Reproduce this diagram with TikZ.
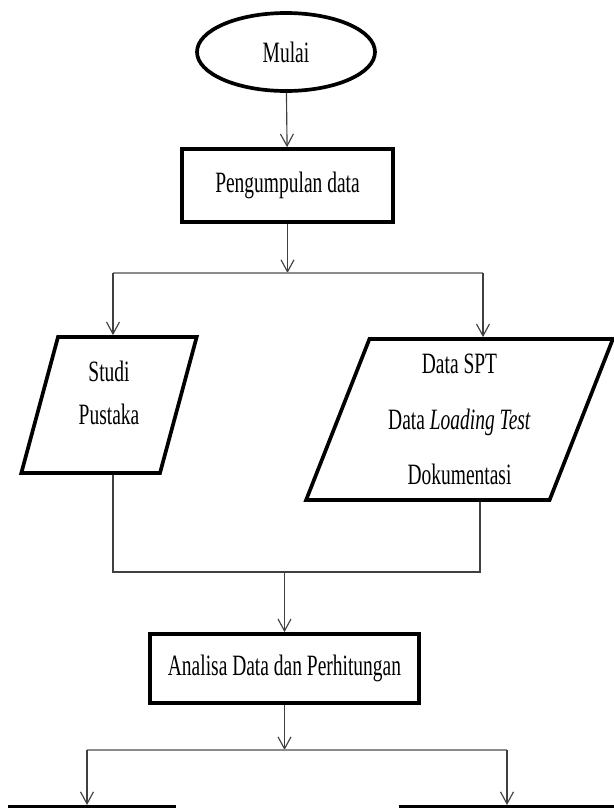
\documentclass[tikz,border=0pt]{standalone}
\usepackage{fontspec}
\setmainfont{Liberation Serif}[FakeStretch=0.66]
\usepackage{tikz}
\usetikzlibrary{arrows.meta, positioning, shapes.geometric, calc}

\tikzset{
  >={Straight Barb[length=2.4mm, width=2.6mm]},
  startstop/.style={draw, line width=2.1pt, ellipse, inner sep=0pt, minimum width=3.56cm, minimum height=1.56cm},
  procbox/.style={draw, line width=2.1pt, rectangle, inner sep=0pt, align=center},
  iobox/.style={draw, line width=2.1pt, trapezium, trapezium stretches=true, inner sep=0pt, align=center},
  conn/.style={draw=black!75, line width=0.65pt},
  splitline/.style={draw=black!45, line width=0.9pt}
}

\begin{document}
\begin{tikzpicture}[font=\fontsize{16.8}{20}\selectfont]
    \useasboundingbox (0,0) rectangle (12.28,-16.16);
    \clip (0,0) rectangle (12.28,-16.16);

    % Start
    \node[startstop] (mulai) at (5.72,-1.04) {Mulai};

    % Data collection
    \node[procbox, minimum width=4.22cm, minimum height=1.46cm] (kumpul) at (5.75,-3.71) {Pengumpulan data};

    % Inputs
    \node[iobox, trapezium left angle=76, trapezium right angle=104,
          minimum width=3.52cm, minimum height=2.72cm] (studi) at (2.18,-8.10)
          {Studi\\[4.5pt]Pustaka\\[-6.4pt]\mbox{}};
    \node[iobox, trapezium left angle=69, trapezium right angle=111,
          minimum width=6.14cm, minimum height=3.22cm] (datain) at (9.19,-8.39)
          {Data SPT\\[11.5pt]Data \textit{Loading Test}\\[11.5pt]Dokumentasi};

    % Analysis
    \node[procbox, minimum width=5.38cm, minimum height=1.38cm] (analisa) at (5.69,-13.37) {Analisa Data dan Perhitungan};

    % Next steps (cut off below)
    \node[procbox, anchor=north, minimum width=3.28cm, minimum height=1.4cm] (hasilA) at (1.84,-16.10) {};
    \node[procbox, anchor=north, minimum width=4.40cm, minimum height=1.4cm] (hasilB) at (10.22,-16.10) {};

    % Junction points
    \coordinate (brL) at (2.26,-5.46);
    \coordinate (brR) at (9.66,-5.46);
    \coordinate (mgL) at (2.26,-11.44);
    \coordinate (mgR) at (9.60,-11.44);
    \coordinate (btL) at (1.74,-15.0);
    \coordinate (btR) at (10.14,-15.0);

    % Arrows - top
    \draw[conn, ->] (mulai) -- (kumpul);
    \draw[conn, ->] (kumpul.south) -- (kumpul.south |- brL);
    \draw[splitline] (brL) -- (brR);
    \draw[conn, ->] (brL) -- (brL |- studi.north);
    \draw[conn, ->] (brR) -- (brR |- datain.north);

    % Lines - merge
    \draw[conn] (mgL |- studi.south) -- (mgL) -- (mgR) -- (mgR |- datain.south);
    \draw[conn, ->] (analisa.north |- mgL) -- (analisa.north);

    % Arrows - bottom
    \draw[conn, ->] (analisa.south) -- (analisa.south |- btL);
    \draw[splitline] (btL) -- (btR);
    \draw[conn, ->] (btL) -- (btL |- hasilA.north);
    \draw[conn, ->] (btR) -- (btR |- hasilB.north);
\end{tikzpicture}
\end{document}
